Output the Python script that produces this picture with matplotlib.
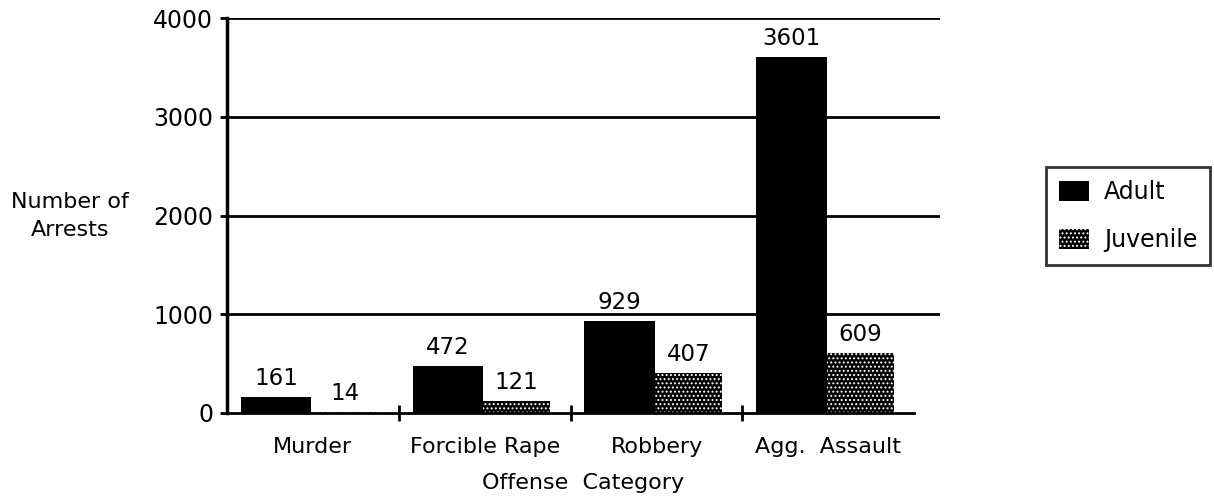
import matplotlib
matplotlib.use("Agg")
import matplotlib.pyplot as plt
import numpy as np

categories = ["Murder", "Forcible Rape", "Robbery", "Agg.  Assault"]
adult = [161, 472, 929, 3601]
juvenile = [14, 121, 407, 609]
y_ticks = [0, 1000, 2000, 3000, 4000]

plt.rcParams['font.family'] = ['DejaVu Sans']
plt.rcParams['hatch.color'] = 'white'
plt.rcParams['hatch.linewidth'] = 0.9

fig = plt.figure(figsize=(12.14, 5.03), dpi=100)
ax = fig.add_axes([227 / 1214, 1 - 413 / 503, (940 - 227) / 1214, (413 - 18) / 503])

x = np.arange(len(categories))
w = 0.41
b1 = ax.bar(x + 0.08, adult, width=w, align='edge', color='black', linewidth=0, label='Adult')
b2 = ax.bar(x + 0.08 + w, juvenile, width=0.39, align='edge', color='black',
            edgecolor='white', linewidth=0, hatch='....', label='Juvenile')

# value labels above bars
for bars in (b1, b2):
    for bar in bars:
        h = bar.get_height()
        ax.annotate(f'{int(h)}', (bar.get_x() + bar.get_width() / 2, h),
                    xytext=(0, 5), textcoords='offset points',
                    ha='center', va='bottom', fontsize=16.5)

ax.set_xlim(0, 4.15)
ax.set_ylim(0, 4000)
ax.set_yticks(y_ticks)
ax.tick_params(axis='y', direction='out', length=5, width=2, labelsize=17, pad=5)
for yv in y_ticks[1:]:
    ax.axhline(yv, color='black', lw=2, zorder=0)

ax.set_xticks(x + 0.5)
ax.set_xticklabels(categories)
ax.tick_params(axis='x', which='major', length=0, labelsize=16, pad=17)
ax.set_xticks([1, 2, 3], minor=True)
ax.tick_params(axis='x', which='minor', direction='inout', length=12, width=2)

for s in ['top', 'right']:
    ax.spines[s].set_visible(False)
ax.spines['left'].set_linewidth(2.5)
ax.spines['bottom'].set_linewidth(2)
ax.spines['bottom'].set_bounds(0, 4)

ax.set_xlabel("Offense  Category", fontsize=16, labelpad=12)
fig.text(70 / 1214, 1 - 216 / 503, "Number of\nArrests", ha='center', va='center',
         fontsize=16, linespacing=1.45)

leg = fig.legend(handles=[b1, b2], loc='center', bbox_to_anchor=(1128 / 1214, 1 - 216 / 503),
                 fontsize=17, frameon=True, fancybox=False, handlelength=1.27,
                 handleheight=0.95, handletextpad=0.65, borderpad=0.55, labelspacing=1.0,
                 borderaxespad=0)
leg.get_frame().set_edgecolor('black')
leg.get_frame().set_linewidth(2)

plt.savefig("out.png", dpi=100)
plt.close()
